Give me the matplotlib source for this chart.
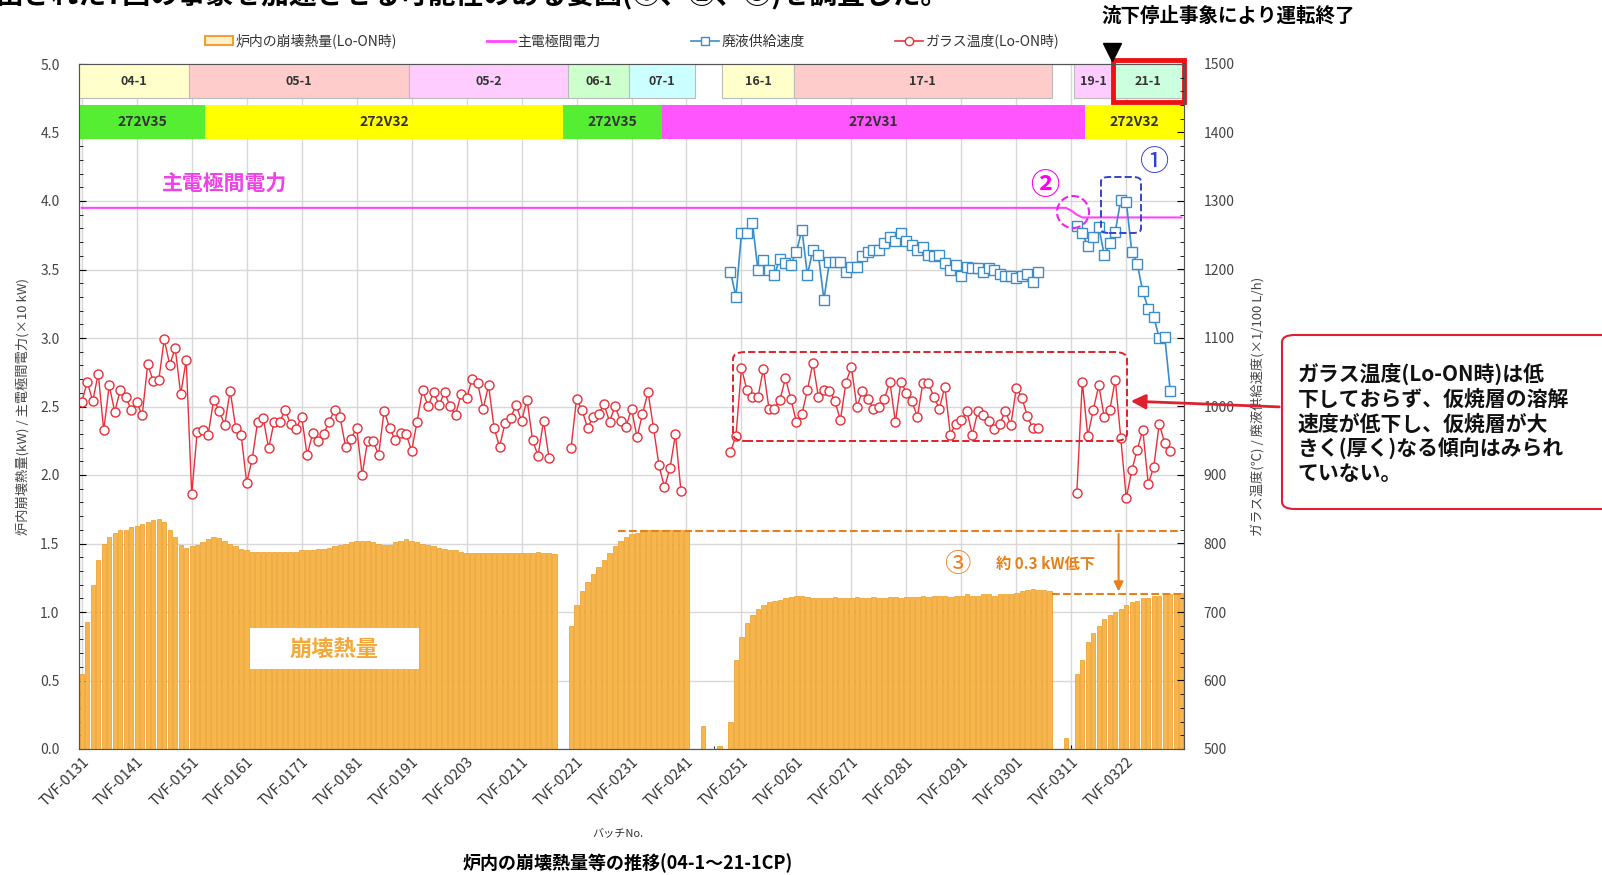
import matplotlib
matplotlib.use("Agg")
import matplotlib.pyplot as plt
import numpy as np
from matplotlib.patches import Rectangle, FancyBboxPatch, Ellipse, Patch, FancyArrowPatch
from matplotlib.lines import Line2D
from matplotlib.ticker import MultipleLocator

plt.rcParams['font.family'] = ['Noto Sans CJK JP', 'DejaVu Sans']

# batch index 0..200, labels every 10 batches
batch_labels = ['TVF-0131', 'TVF-0141', 'TVF-0151', 'TVF-0161', 'TVF-0171',
                'TVF-0181', 'TVF-0191', 'TVF-0203', 'TVF-0211', 'TVF-0221',
                'TVF-0231', 'TVF-0241', 'TVF-0251', 'TVF-0261', 'TVF-0271',
                'TVF-0281', 'TVF-0291', 'TVF-0301', 'TVF-0311', 'TVF-0322']
n_batch = 201

# decay heat in furnace (kW), by campaign section
heat_sec1 = [0.55, 0.93, 1.20, 1.38, 1.50, 1.55, 1.58, 1.60, 1.60, 1.62,
             1.63, 1.64, 1.66, 1.67, 1.68, 1.66, 1.60, 1.55, 1.49, 1.47,
             1.48, 1.49, 1.51, 1.53, 1.55, 1.54, 1.52, 1.50, 1.48, 1.46,
             1.45, 1.44, 1.44, 1.44, 1.44, 1.44, 1.44, 1.44, 1.44, 1.44,
             1.45, 1.45, 1.45, 1.46, 1.46, 1.47, 1.48, 1.49, 1.50, 1.51,
             1.52, 1.52, 1.52, 1.51, 1.50, 1.49, 1.49, 1.51, 1.52, 1.53,
             1.52, 1.51, 1.50, 1.49, 1.48, 1.47, 1.46, 1.45, 1.45, 1.44,
             1.43, 1.43, 1.43, 1.43, 1.43, 1.43, 1.43, 1.43, 1.43, 1.43,
             1.43, 1.43, 1.43, 1.44, 1.43, 1.43, 1.42]
heat_gap1 = [0, 0]
heat_sec2 = [0.90, 1.05, 1.15, 1.22, 1.28, 1.33, 1.38, 1.43, 1.48, 1.52, 1.55,
             1.57, 1.58, 1.59, 1.60, 1.60, 1.60, 1.60, 1.60, 1.60, 1.60, 1.59]
heat_gap2 = [0, 0, 0.17, 0, 0, 0.02, 0]
heat_sec3 = [0.20, 0.65, 0.82, 0.92, 0.98, 1.02, 1.05, 1.07, 1.08, 1.09,
             1.10, 1.11, 1.12, 1.12, 1.11, 1.10,
             1.10, 1.10, 1.10, 1.11, 1.10, 1.10, 1.10, 1.11, 1.10, 1.10,
             1.11, 1.10, 1.10, 1.11, 1.11, 1.10, 1.11,
             1.11, 1.11, 1.12, 1.11, 1.12, 1.12, 1.12, 1.11, 1.12, 1.12,
             1.13, 1.12, 1.12, 1.13, 1.13, 1.12, 1.13, 1.13, 1.13, 1.14,
             1.15, 1.16, 1.17, 1.16, 1.16, 1.15]
heat_gap3 = [0, 0, 0.08, 0]
heat_sec4 = [0.55, 0.65, 0.78, 0.85, 0.90, 0.95, 0.98, 1.00, 1.02, 1.05,
             1.07, 1.08, 1.10, 1.10, 1.12, 1.12, 1.13, 1.13, 1.14, 1.14]
heat = heat_sec1 + heat_gap1 + heat_sec2 + heat_gap2 + heat_sec3 + heat_gap3 + heat_sec4

# main electrode power (x10 kW)
power = [3.95] * 180 + [3.93, 3.90] + [3.88] * 19

# glass temperature (deg C): (start batch, values)
temp_sec1 = [1006, 1036, 1008, 1048, 965, 1031, 992, 1024, 1014, 995,
             1006, 987, 1062, 1037, 1038, 1098, 1061, 1085, 1018, 1068,
             872, 963, 965, 959, 1010, 994, 973, 1023, 969, 958,
             889, 923, 978, 983, 939, 978, 977, 995, 974, 967,
             985, 929, 961, 950, 960, 978, 995, 984, 941, 953,
             969, 900, 950, 950, 929, 994, 969, 951, 962, 960,
             935, 978, 1024, 1000, 1021, 1002, 1021, 1000, 988, 1018,
             1012, 1040, 1035, 996, 1031, 969, 941, 976, 983, 1002,
             979, 1010, 951, 928, 979, 925]
temp_sec2 = [939, 1011, 995, 969, 984, 989, 1003, 978, 1000, 979, 970,
             997, 955, 989, 1021, 969, 914, 882, 910, 960, 876]
temp_sec3 = [934, 957, 1056, 1024, 1014, 1014, 1055, 997, 997, 1010,
             1041, 1011, 977, 989, 1024, 1064, 1014, 1024, 1023, 1008,
             980, 1035, 1058, 999, 1023, 1011, 997, 999, 1011, 1036,
             977, 1036, 1020, 1008, 985, 1034, 1034, 1014, 997, 1029,
             959, 975, 980, 993, 959, 993, 988, 979, 967, 975,
             993, 973, 1027, 1013, 986, 968, 968]
temp_sec4 = [873, 1036, 957, 995, 1031, 984, 995, 1039, 954, 866,
             907, 937, 966, 887, 912, 975, 946, 935]
temp_start = [0, 89, 118, 181]

# waste liquid feed rate (x1/100 L/h)
feed_sec3 = [1197, 1160, 1253, 1253, 1268, 1199, 1214, 1199, 1192, 1216,
             1209, 1207, 1226, 1258, 1192, 1229, 1221, 1156, 1211, 1211,
             1211, 1197, 1204, 1204, 1219, 1226, 1229, 1229, 1238, 1248,
             1241, 1253, 1241, 1236, 1229, 1233, 1221, 1219, 1221, 1209,
             1199, 1207, 1190, 1204, 1202, 1202, 1197, 1202, 1199, 1194,
             1190, 1190, 1187, 1190, 1194, 1182, 1197]
feed_sec4 = [1264, 1253, 1234, 1248, 1262, 1221, 1238, 1255, 1302, 1299,
             1226, 1208, 1168, 1143, 1131, 1100, 1102, 1022]
feed_start = [118, 181]

# campaign bands (batch edges)
camp_labels = ['04-1', '05-1', '05-2', '06-1', '07-1', '16-1', '17-1', '19-1', '21-1']
camp_edges = [(-0.5, 19.5), (19.5, 59.5), (59.5, 88.5), (88.5, 99.5), (99.5, 111.5),
              (116.5, 129.5), (129.5, 176.5), (180.5, 187.5), (187.5, 200.5)]
camp_colors = ['#FFFFCC', '#FFCCCC', '#FFCCFF', '#CCFFCC', '#CCFFFF',
               '#FFFFCC', '#FFCCCC', '#FFCCFF', '#CCFFDD']
furn_labels = ['272V35', '272V32', '272V35', '272V31', '272V32']
furn_edges = [(-0.5, 22.5), (22.5, 87.5), (87.5, 105.5), (105.5, 182.5), (182.5, 200.5)]
furn_colors = ['#55EE33', '#FFFF00', '#55EE33', '#FF55FF', '#FFFF00']

W, H = 1602, 875
fig = plt.figure(figsize=(W / 100, H / 100), dpi=100)
ax1 = fig.add_axes([79 / W, 1 - 749 / H, 1105 / W, 685 / H])
ax2 = ax1.twinx()

x = np.arange(n_batch)
ax1.bar(x, heat, width=0.8, color='#F7B64C', edgecolor='#EC9A1E', linewidth=0.5, zorder=2)
ax1.plot(x, power, color='#FF44FF', lw=1.5, zorder=3)

for start, vals in zip(temp_start, [temp_sec1, temp_sec2, temp_sec3, temp_sec4]):
    xs = np.arange(start, start + len(vals))
    ax2.plot(xs, vals, color='#E8303A', lw=1, marker='o', ms=6.5,
             mfc='white', mec='#E8303A', mew=1)
for start, vals in zip(feed_start, [feed_sec3, feed_sec4]):
    xs = np.arange(start, start + len(vals))
    ax2.plot(xs, vals, color='#3A8DC8', lw=1.2, marker='s', ms=6.5,
             mfc='white', mec='#3A8DC8', mew=1)

ax1.set_xlim(-0.5, 200.5)
ax1.set_ylim(0, 5.0)
ax2.set_ylim(500, 1500)

ax1.set_xticks(np.arange(0, 200, 10))
ax1.set_xticklabels(batch_labels, rotation=45, ha='right', va='top',
                    rotation_mode='anchor', fontsize=10.5, color='#333333')
ax1.xaxis.set_minor_locator(MultipleLocator(5))
ax1.yaxis.set_major_locator(MultipleLocator(0.5))
ax1.yaxis.set_minor_locator(MultipleLocator(0.1))
ax1.yaxis.set_major_formatter(matplotlib.ticker.FormatStrFormatter('%.1f'))
ax2.yaxis.set_major_locator(MultipleLocator(100))
ax2.yaxis.set_minor_locator(MultipleLocator(20))
ax1.tick_params(axis='y', which='both', direction='in', labelsize=10, labelcolor='#444444')
ax1.tick_params(axis='x', which='both', direction='in', labelcolor='#333333')
ax1.tick_params(axis='y', which='major', length=5, pad=14)
ax1.tick_params(axis='y', which='minor', length=3)
ax1.tick_params(axis='x', which='major', length=3, pad=4)
ax1.tick_params(axis='x', which='minor', length=2)
ax2.tick_params(axis='y', which='both', direction='in', labelsize=10, labelcolor='#444444')
ax2.tick_params(axis='y', which='major', length=5, pad=14)
ax2.tick_params(axis='y', which='minor', length=3)
for ax in (ax1, ax2):
    for s in ax.spines.values():
        s.set_color('#555555')

ax1.grid(True, which='major', color='#D8D8D8', lw=1)
ax1.set_axisbelow(True)

ax1.set_ylabel('炉内崩壊熱量(kW) / 主電極間電力(×10 kW)', fontsize=9.5, color='#444444', labelpad=8)
ax2.set_ylabel('ガラス温度(℃) / 廃液供給速度(×1/100 L/h)', fontsize=9.5, color='#444444', labelpad=12)

# campaign / furnace bands
for lab, (a, b), c in zip(camp_labels, camp_edges, camp_colors):
    ax1.add_patch(Rectangle((a, 4.75), b - a, 0.25, facecolor=c, edgecolor='#BBBBBB', lw=0.8, zorder=5))
    ax1.text((a + b) / 2, 4.875, lab, ha='center', va='center', fontsize=9,
             fontweight='bold', color='#333333', zorder=6)
for lab, (a, b), c in zip(furn_labels, furn_edges, furn_colors):
    ax1.add_patch(Rectangle((a, 4.45), b - a, 0.25, facecolor=c, edgecolor='none', zorder=5))
    ax1.text((a + b) / 2, 4.575, lab, ha='center', va='center', fontsize=10,
             fontweight='bold', color='#333333', zorder=6)
ax1.add_patch(Rectangle((187.5, 4.72), 13, 0.31, fill=False, edgecolor='#EE1111',
                        lw=3.5, zorder=7, clip_on=False))

# in-plot annotations
ax1.text(14.5, 4.12, '主電極間電力', color='#F040E8', fontsize=15, fontweight='bold', va='center', zorder=6)
ax1.add_patch(Rectangle((250 / W, 1 - 669 / H), 169 / W, 41 / H, transform=fig.transFigure,
                        facecolor='white', edgecolor='none', zorder=4))
ax1.text(45.9, 0.72, '崩壊熱量', fontsize=16, fontweight='bold', color='#F5A83A',
         ha='center', va='center', zorder=5)

ax1.plot([97.5, 200], [1.59, 1.59], ls='--', color='#E8801A', lw=1.5, zorder=4)
ax1.plot([176.5, 200], [1.13, 1.13], ls='--', color='#E8801A', lw=1.5, zorder=4)
ax1.annotate('', xy=(188.6, 1.13), xytext=(188.6, 1.59),
             arrowprops=dict(arrowstyle='-|>', color='#E8801A', lw=1.5, mutation_scale=14), zorder=5)
ax1.text(159.3, 1.35, '③', color='#F08020', fontsize=19, ha='center', va='center', zorder=6)
ax1.text(166.3, 1.35, '約 0.3 kW低下', color='#E8801A', fontsize=11, fontweight='bold',
         va='center', zorder=6)

fig.add_artist(FancyBboxPatch((733 / W, 1 - 441 / H), 394 / W, 89 / H,
                              boxstyle='round,pad=0,rounding_size=0.008', transform=fig.transFigure,
                              fill=False, edgecolor='#E0202A', ls='--', lw=1.4))
fig.add_artist(FancyBboxPatch((1101 / W, 1 - 233 / H), 40 / W, 56 / H,
                              boxstyle='round,pad=0,rounding_size=0.005', transform=fig.transFigure,
                              fill=False, edgecolor='#3344CC', ls='--', lw=1.4))
fig.add_artist(Ellipse((1073 / W, 1 - 212 / H), 32 / W, 32 / H, transform=fig.transFigure,
                       fill=False, edgecolor='#EE22EE', ls='--', lw=1.5))
fig.text(1155 / W, 1 - 163 / H, '①', fontsize=21, color='#2A3FDC', ha='center', va='center')
fig.text(1045 / W, 1 - 185 / H, '②', fontsize=21, color='#FF00EE', ha='center', va='center',
         fontweight='bold')

# callout
fig.add_artist(FancyBboxPatch((1282 / W, 1 - 509 / H), 340 / W, 174 / H,
                              boxstyle='round,pad=0,rounding_size=0.008', transform=fig.transFigure,
                              facecolor='white', edgecolor='#E02030', lw=1.5))
fig.text(1298 / W, 1 - 424 / H,
         'ガラス温度(Lo-ON時)は低\n下しておらず、仮焼層の溶解\n速度が低下し、仮焼層が大\nきく(厚く)なる傾向はみられ\nていない。',
         fontsize=15, fontweight='bold', va='center', ha='left', linespacing=1.2, color='#111111')
fig.add_artist(FancyArrowPatch((1282 / W, 1 - 407 / H), (1128 / W, 1 - 401 / H),
                               transform=fig.transFigure, arrowstyle='-|>', mutation_scale=22,
                               color='#E02030', lw=2))

# legend
handles = [Patch(facecolor='#FFF1D0', edgecolor='#F0A030', lw=1.5),
           Line2D([], [], color='#FF44FF', lw=2),
           Line2D([], [], color='#3A8DC8', lw=1.2, marker='s', ms=6, mfc='white', mec='#3A8DC8'),
           Line2D([], [], color='#E8303A', lw=1.2, marker='o', ms=6, mfc='white', mec='#E8303A')]
labels = ['炉内の崩壊熱量(Lo-ON時)', '主電極間電力', '廃液供給速度', 'ガラス温度(Lo-ON時)']
leg = fig.legend(handles, labels, loc='center', bbox_to_anchor=(632 / W, 1 - 41 / H), ncol=4,
                 frameon=False, fontsize=10, columnspacing=6.5, handlelength=2, handletextpad=0.2)
for t in leg.get_texts():
    t.set_color('#333333')

# header texts (top line is cut by the page edge, as in the source slide)
fig.text(-0.003, 1 - 9 / H, '出された7回の事象を加速させる可能性のある要因(①、②、③)を調査した。',
         fontsize=20, fontweight='bold', va='bottom', ha='left')
fig.text(1101 / W, 1 - 16 / H, '流下停止事象により運転終了', fontsize=14, fontweight='bold',
         va='center', ha='left')
fig.add_artist(Line2D([1112 / W], [1 - 52 / H], marker='v', ms=13, color='black',
                      transform=fig.transFigure))

fig.text(618 / W, 1 - 833 / H, 'バッチNo.', fontsize=8, ha='center', va='center', color='#333333')
fig.text(628 / W, 1 - 863 / H, '炉内の崩壊熱量等の推移(04-1～21-1CP)', fontsize=13,
         fontweight='bold', ha='center', va='center')

fig.savefig('out.png', dpi=100)
